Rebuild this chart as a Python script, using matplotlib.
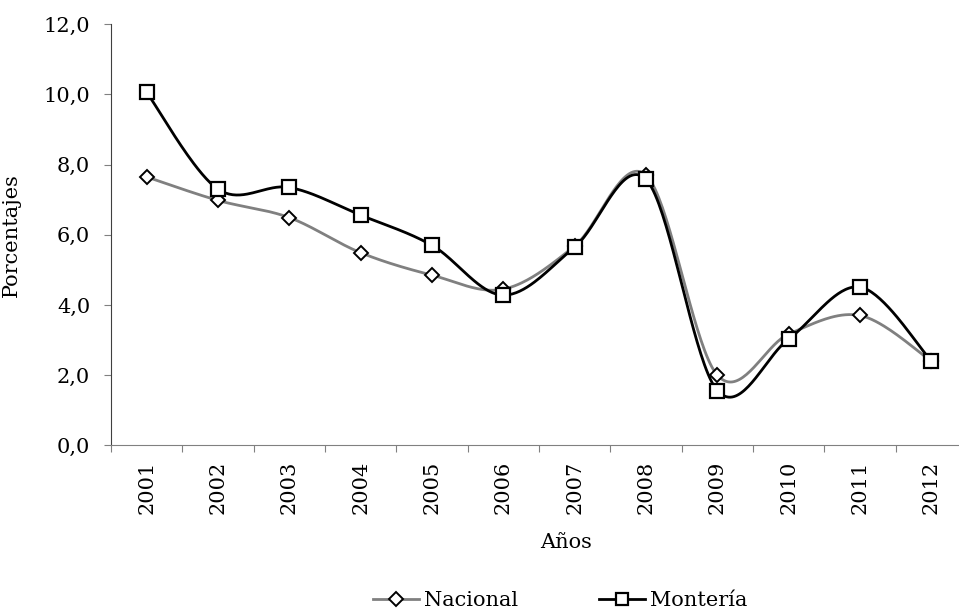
import matplotlib
matplotlib.use("Agg")
import matplotlib.pyplot as plt
from matplotlib.ticker import FixedLocator, FuncFormatter
import numpy as np

anios = ["2001", "2002", "2003", "2004", "2005", "2006",
         "2007", "2008", "2009", "2010", "2011", "2012"]
nacional = [7.65, 6.98, 6.49, 5.49, 4.85, 4.45, 5.68, 7.70, 2.00, 3.17, 3.70, 2.40]
monteria = [10.06, 7.30, 7.35, 6.56, 5.70, 4.28, 5.65, 7.58, 1.56, 3.03, 4.51, 2.40]

plt.rcParams['font.family'] = ['DejaVu Serif']
fs = 15


def suavizar(x, y, n=40):
    # curva tipo Excel: bezier con puntos de control (P[i+1]-P[i-1])/6
    x = np.asarray(x, float)
    y = np.asarray(y, float)
    px = np.concatenate([[x[0]], x, [x[-1]]])
    py = np.concatenate([[y[0]], y, [y[-1]]])
    t = np.linspace(0, 1, n)
    xs, ys = [], []
    for i in range(len(x) - 1):
        p0 = np.array([px[i + 1], py[i + 1]])
        p3 = np.array([px[i + 2], py[i + 2]])
        c1 = p0 + (p3 - np.array([px[i], py[i]])) / 6
        c2 = p3 - (np.array([px[i + 3], py[i + 3]]) - p0) / 6
        b = ((1 - t) ** 3)[:, None] * p0 + (3 * (1 - t) ** 2 * t)[:, None] * c1 \
            + (3 * (1 - t) * t ** 2)[:, None] * c2 + (t ** 3)[:, None] * p3
        xs.extend(b[:, 0])
        ys.extend(b[:, 1])
    return np.array(xs), np.array(ys)


fig = plt.figure(figsize=(9.59, 6.10), dpi=100)
ax = fig.add_axes([111 / 959, 1 - 445.3 / 610, (967 - 111) / 959, (445.3 - 24.3) / 610])

pos = np.arange(len(anios))

xn, yn = suavizar(pos, nacional)
xm, ym = suavizar(pos, monteria)
ax.plot(xn, yn, color="#808080", lw=2, zorder=2)
ax.plot(xm, ym, color="black", lw=2, zorder=3)
ax.plot(pos, nacional, ls="none", marker="D", ms=7.5, mfc="white", mec="black", mew=1.4, zorder=4)
ax.plot(pos, monteria, ls="none", marker="s", ms=10, mfc="white", mec="black", mew=1.6, zorder=5)

# leyenda
ax.plot([], [], color="#808080", lw=2, marker="D", ms=7, mfc="white", mec="black", mew=1.4, label="Nacional")
ax.plot([], [], color="black", lw=2, marker="s", ms=9, mfc="white", mec="black", mew=1.6, label="Montería")
h, l = ax.get_legend_handles_labels()
fig.legend(h, l, loc="center left", bbox_to_anchor=(373 / 959, 1 - 601 / 610), ncol=2, frameon=False,
           fontsize=fs, handlelength=2.2, handletextpad=0.25, columnspacing=3.9, borderpad=0,
           borderaxespad=0)

ax.set_xlim(-0.5, len(anios) - 0.5)
ax.set_ylim(0, 12)
ax.set_yticks(np.arange(0, 13, 2))
ax.yaxis.set_major_formatter(FuncFormatter(lambda v, p: ("%.1f" % v).replace(".", ",")))

ax.xaxis.set_major_locator(FixedLocator(np.arange(-0.5, len(anios), 1)))
ax.xaxis.set_major_formatter(FuncFormatter(lambda v, p: ""))
ax.xaxis.set_minor_locator(FixedLocator(pos))
ax.set_xticklabels(anios, minor=True, rotation=90)
ax.tick_params(axis="x", which="minor", length=0, pad=11, labelsize=fs)
ax.tick_params(axis="x", which="major", length=5, color="#808080")
ax.tick_params(axis="y", length=5, pad=10, labelsize=fs, color="#808080")

for s in ["top", "right"]:
    ax.spines[s].set_visible(False)
ax.spines["left"].set_color("#404040")
ax.spines["bottom"].set_color("#808080")

ax.set_ylabel("Porcentajes", fontsize=fs)
ax.yaxis.set_label_coords(-90 / 856, 0.5)
fig.text(566 / 959, 1 - 543 / 610, "Años", ha="center", va="center", fontsize=fs)

fig.savefig("out.png", dpi=100)
